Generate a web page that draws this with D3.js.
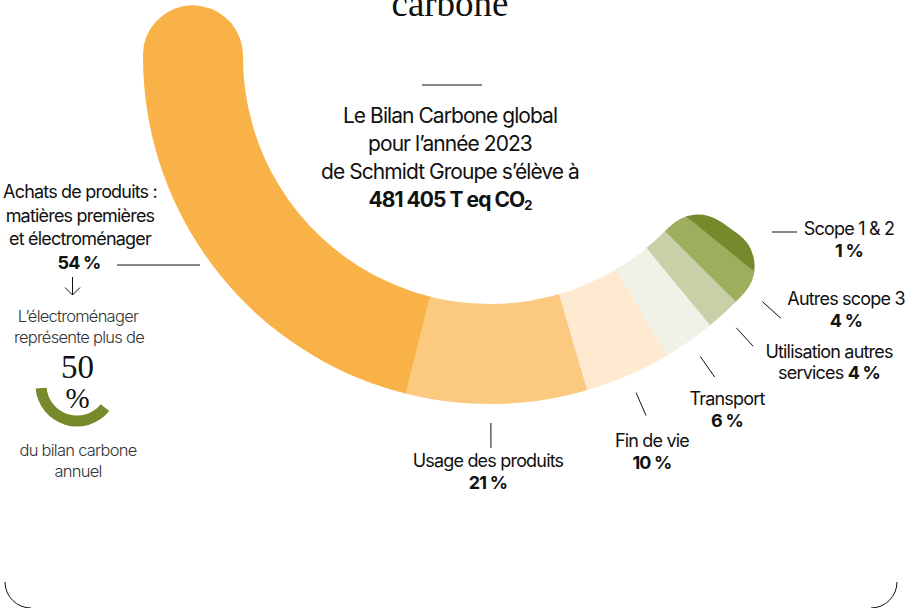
<!DOCTYPE html>
<html>
<head>
<meta charset="utf-8">
<script src="https://cdn.jsdelivr.net/npm/d3@7"></script>
<style>
  html, body { margin: 0; padding: 0; background: #fff; }
  svg { display: block; }
  .sans { font-family: Inter, "Liberation Sans", sans-serif; letter-spacing: -0.045em; }
  .serif { font-family: "Liberation Serif", "DejaVu Serif", serif; }
</style>
</head>
<body>
<svg id="chart"></svg>
<script>
// Bilan carbone 2023 - répartition par poste

var categories = ["Achats de produits", "Usage des produits", "Fin de vie", "Transport",
                  "Utilisation autres services", "Autres scope 3", "Scope 1 & 2"];
var shares = [54, 21, 10, 6, 4, 4, 1];
var shareLabels = ["54 %", "21 %", "10 %", "6 %", "4 %", "4 %", "1 %"];
var colors = ["#F9B247", "#FCC980", "#FEEAD0", "#F0F2E8", "#C8D0A7", "#9EAE5F", "#76892B"];

var totalText = ["Le Bilan Carbone global", "pour l\u2019année 2023", "de Schmidt Groupe s\u2019élève à"];
var totalValue = "481 405 T eq CO";
var focusShare = 50;

var width = 917, height = 608;
var cx = 490, cy = 57, r0 = 247, r1 = 347;
var rad = function(d) { return d * Math.PI / 180; };

var svg = d3.select("#chart").attr("width", width).attr("height", height);

// title, cut at the top edge
svg.append("text").attr("class", "serif")
    .attr("x", 450).attr("y", 16)
    .attr("text-anchor", "middle")
    .attr("font-size", 37).attr("fill", "#111")
    .text("carbone");

var pie = d3.pie().sort(null).value(function(d) { return d; })
    .startAngle(rad(272)).endAngle(rad(127.6));
var slices = pie(shares);

var g = svg.append("g").attr("transform", "translate(" + cx + "," + cy + ")");

// band outline: round cap on the left, softer end on the right
var clip = g.append("clipPath").attr("id", "band");
clip.append("path")
    .attr("d", d3.arc().innerRadius(r0).outerRadius(r1).cornerRadius(50)
      ({ startAngle: rad(190), endAngle: rad(280) }));
clip.append("path")
    .attr("d", d3.arc().innerRadius(r0).outerRadius(r1).cornerRadius(40)
      ({ startAngle: rad(125.5), endAngle: rad(215) }));

var wedge = d3.arc().innerRadius(r0 - 40).outerRadius(r1 + 40);
var last = slices.length - 1;
g.append("g").attr("clip-path", "url(#band)")
  .selectAll("path")
  .data(slices)
  .join("path")
    .attr("fill", function(d, i) { return colors[i]; })
    .attr("stroke", function(d, i) { return colors[i]; })
    .attr("stroke-width", 0.6)
    .attr("d", function(d, i) {
      var a = { startAngle: d.startAngle, endAngle: d.endAngle };
      if (i === 0) a.startAngle = rad(290);
      if (i === last) a.endAngle = rad(115);
      return wedge(a);
    });

function polar(a, r) { return [cx + r * Math.sin(a), cy - r * Math.cos(a)]; }

// radial leaders for the middle slices, labels placed beside them
var labelPos = [null, [488, 467], [652, 447], [727, 405], [829, 358], [846, 305], null];
var labelLines = [null, ["Usage des produits"], ["Fin de vie"], ["Transport"],
                  ["Utilisation autres"], ["Autres scope 3"], null];

var sans = 18;
slices.forEach(function(s, i) {
  if (!labelPos[i]) return;
  var mid = (s.startAngle + s.endAngle) / 2;
  if (i === 1) mid += rad(1);
  var p0 = polar(mid, 366), p1 = polar(mid, 391);
  svg.append("line")
      .attr("x1", p0[0]).attr("y1", p0[1]).attr("x2", p1[0]).attr("y2", p1[1])
      .attr("stroke", "#111").attr("stroke-width", 1);
  var x = labelPos[i][0];
  var t = svg.append("text").attr("class", "sans")
      .attr("x", x).attr("y", labelPos[i][1])
      .attr("text-anchor", "middle")
      .attr("font-size", sans).attr("fill", "#111");
  t.append("tspan").text(labelLines[i][0]);
  if (i === 4) {
    var l2 = t.append("tspan").attr("x", x).attr("dy", 20.5);
    l2.append("tspan").text("services ");
    l2.append("tspan").attr("font-weight", 700).text(shareLabels[i]);
  } else {
    t.append("tspan").attr("x", x).attr("dy", 22)
        .attr("font-weight", 700).text(shareLabels[i]);
  }
});

// Scope 1 & 2 : horizontal leader
svg.append("line").attr("x1", 772).attr("x2", 797).attr("y1", 232).attr("y2", 232)
    .attr("stroke", "#111").attr("stroke-width", 1);
var ts = svg.append("text").attr("class", "sans").attr("font-size", sans).attr("fill", "#111")
    .attr("text-anchor", "middle").attr("x", 849).attr("y", 235);
ts.append("tspan").text(categories[6]);
ts.append("tspan").attr("x", 849).attr("dy", 22).attr("font-weight", 700).text(shareLabels[6]);

// Achats : left block
svg.append("line").attr("x1", 117).attr("x2", 200).attr("y1", 265).attr("y2", 265)
    .attr("stroke", "#111").attr("stroke-width", 1);
var ta = svg.append("text").attr("class", "sans").attr("font-size", sans).attr("fill", "#111")
    .attr("text-anchor", "middle");
[categories[0] + " :", "matières premières", "et électroménager"].forEach(function(l, i) {
  ta.append("tspan").attr("x", 80).attr("y", 198 + i * 23.6).text(l);
});
ta.append("tspan").attr("x", 79).attr("y", 269).attr("font-weight", 700).text(shareLabels[0]);

svg.append("path")
    .attr("d", "M72.5,277V295M65,287.5L72.5,295L80,287.5")
    .attr("fill", "none").attr("stroke", "#111").attr("stroke-width", 1);

var tg = svg.append("text").attr("class", "sans").attr("font-size", 16.5).attr("fill", "#333")
    .attr("font-weight", 300).attr("text-anchor", "middle");
tg.append("tspan").attr("x", 78).attr("y", 322).text("L\u2019électroménager");
tg.append("tspan").attr("x", 79).attr("y", 343).text("représente plus de");
tg.append("tspan").attr("x", 78).attr("y", 456).text("du bilan carbone");
tg.append("tspan").attr("x", 78).attr("y", 477).text("annuel");

// small gauge
var gauge = d3.arc().innerRadius(36).outerRadius(36);
svg.append("path")
    .attr("transform", "translate(77,385)")
    .attr("d", gauge({ startAngle: rad(129), endAngle: rad(265) }))
    .attr("fill", "none").attr("stroke", colors[6])
    .attr("stroke-width", 11).attr("stroke-linecap", "round");

svg.append("text").attr("class", "serif").attr("x", 77.5).attr("y", 378)
    .attr("text-anchor", "middle").attr("font-size", 33).attr("fill", "#111")
    .text(focusShare);
svg.append("text").attr("class", "serif").attr("x", 77.5).attr("y", 408)
    .attr("text-anchor", "middle").attr("font-size", 29).attr("fill", "#111")
    .text("%");

// centre text
svg.append("line").attr("x1", 422).attr("x2", 482).attr("y1", 85).attr("y2", 85)
    .attr("stroke", "#111").attr("stroke-width", 1);
var tc = svg.append("text").attr("class", "sans").attr("font-size", 21).attr("fill", "#111")
    .attr("text-anchor", "middle");
totalText.forEach(function(l, i) {
  tc.append("tspan").attr("x", 450).attr("y", 123 + i * 28).text(l);
});
var tv = tc.append("tspan").attr("x", 450).attr("y", 207).attr("font-weight", 700);
tv.append("tspan").text(totalValue);
tv.append("tspan").attr("font-size", 13).attr("dy", 3).text("2");

// bottom frame corners
svg.append("path")
    .attr("d", "M5,582A26,26 0 0 0 31,608M897,582A26,26 0 0 1 871,608")
    .attr("fill", "none").attr("stroke", "#111").attr("stroke-width", 1);
</script>
</body>
</html>
